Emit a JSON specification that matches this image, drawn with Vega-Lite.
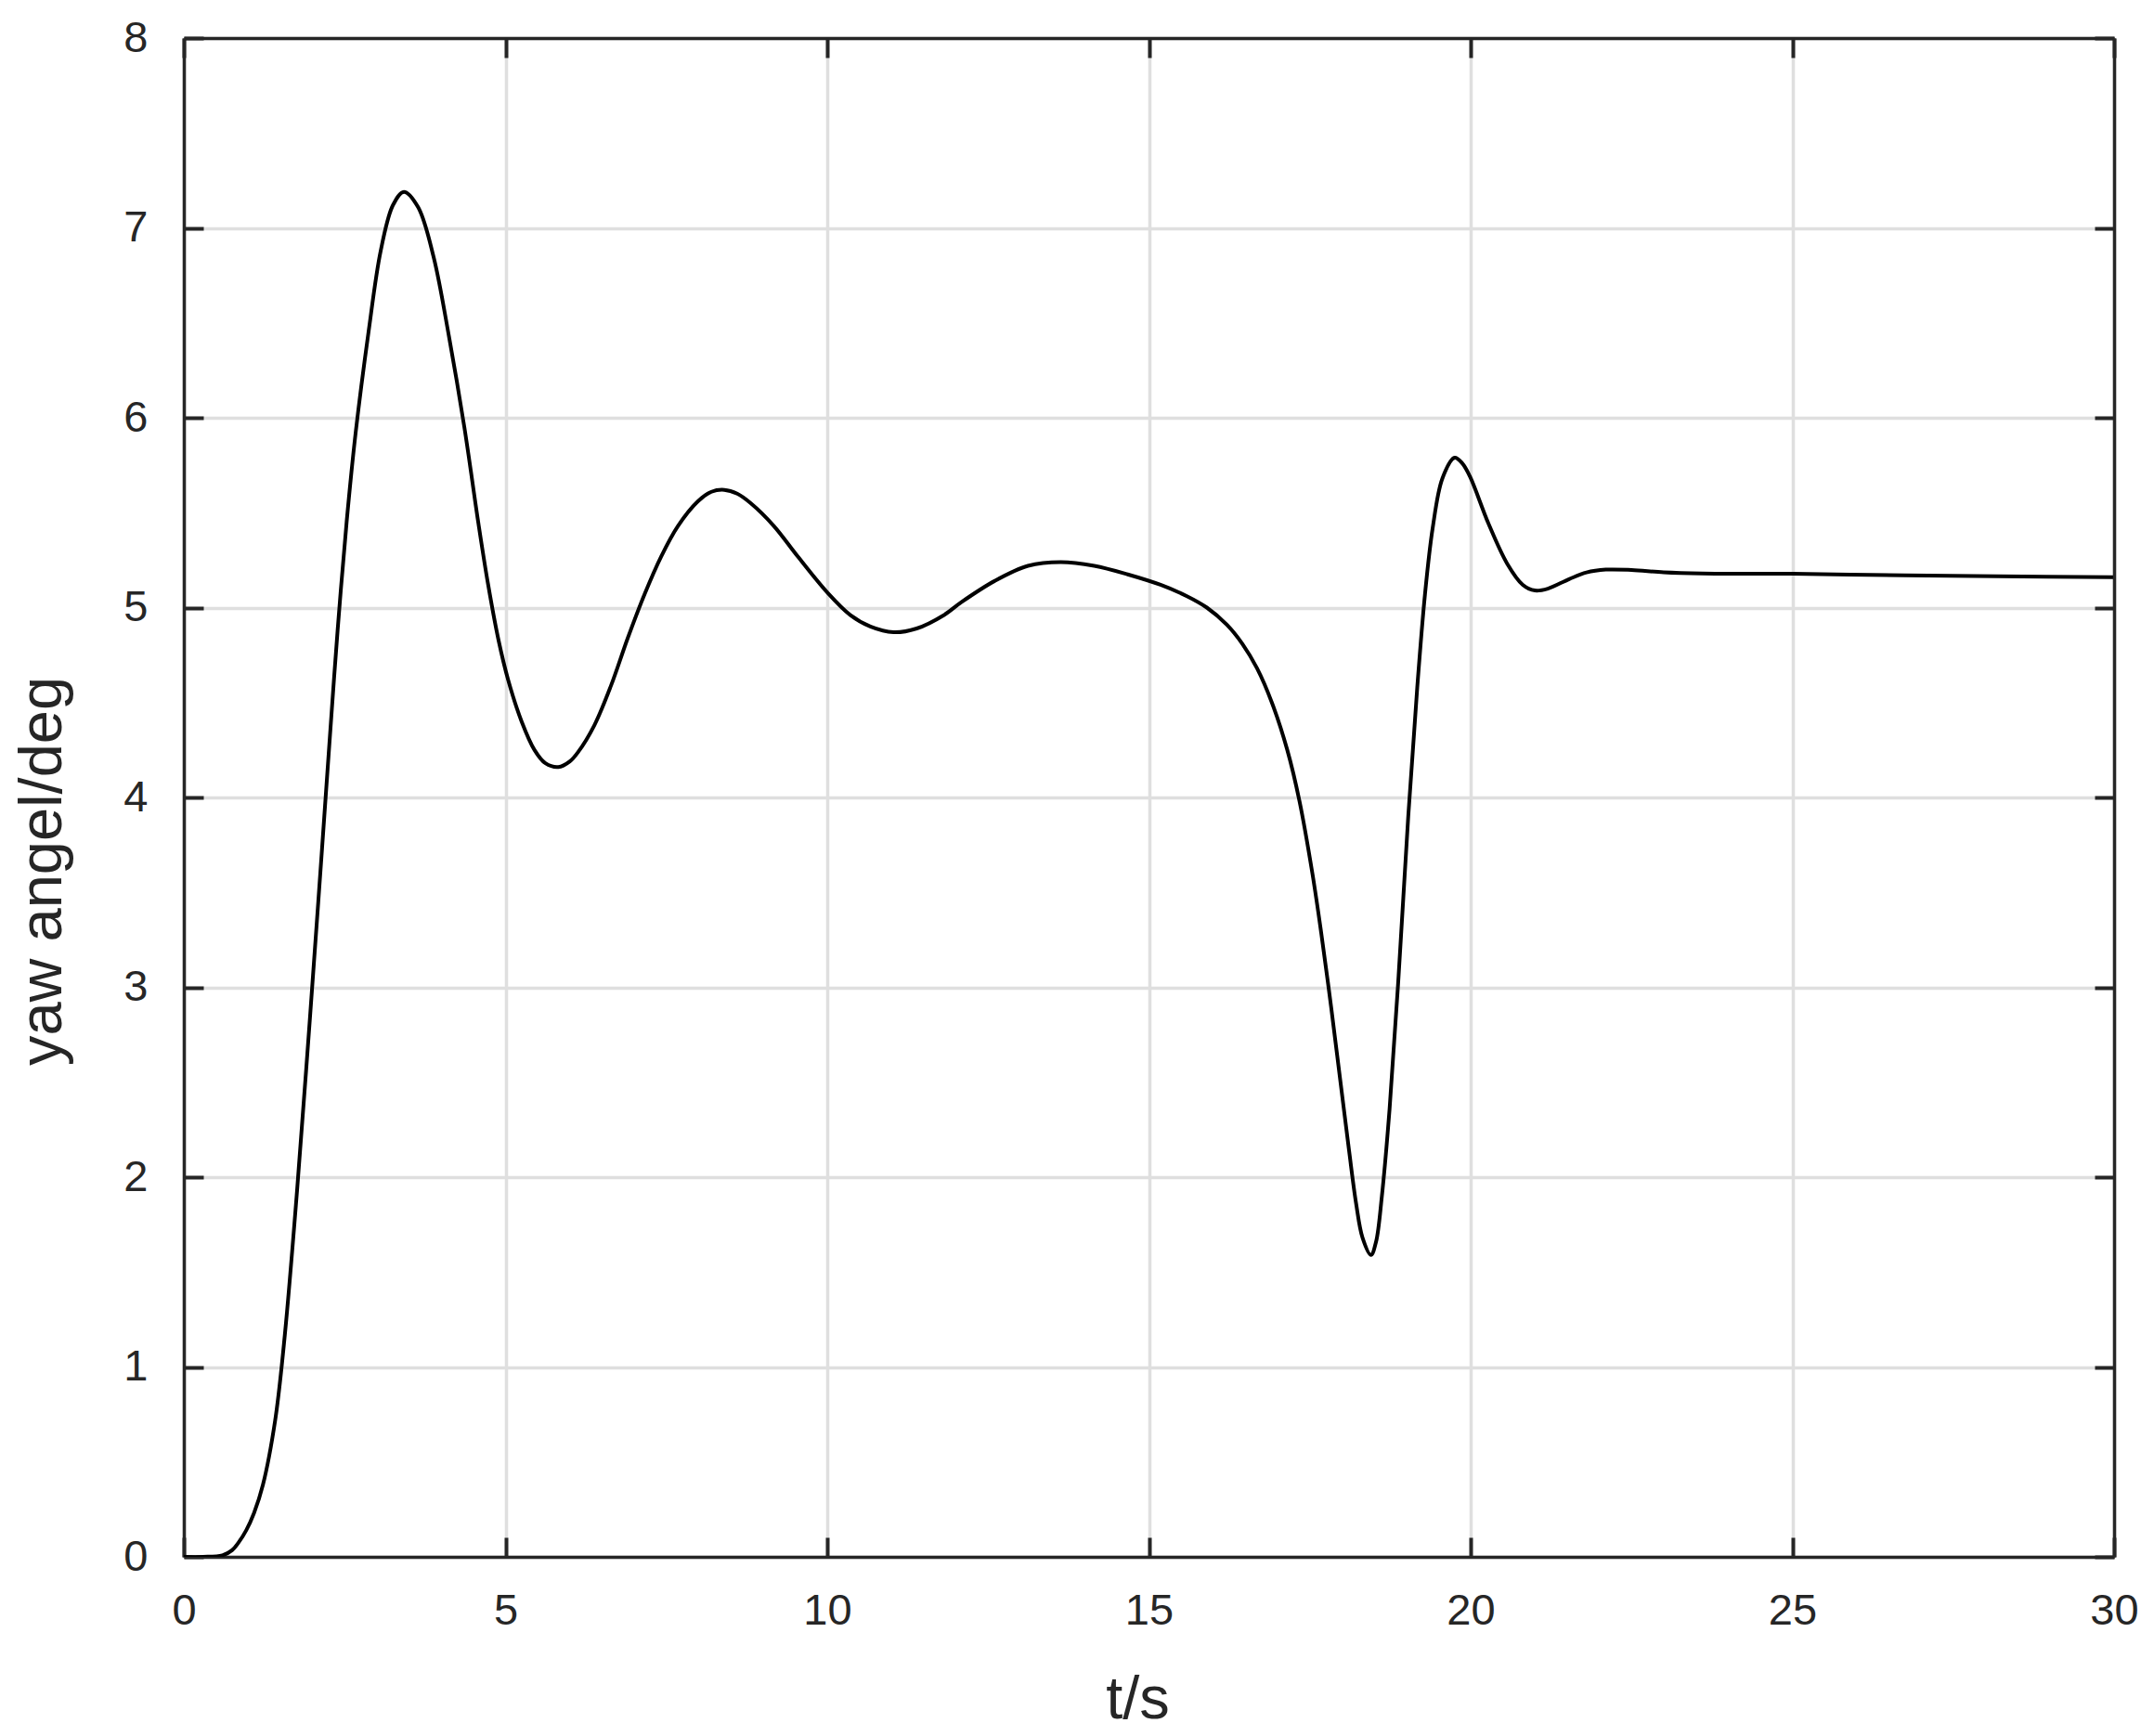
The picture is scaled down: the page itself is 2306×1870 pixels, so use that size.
{
  "$schema": "https://vega.github.io/schema/vega-lite/v6.json",
  "width": 2079,
  "height": 1636,
  "autosize": {"type": "none"},
  "padding": {"left": 198, "top": 41, "right": 29, "bottom": 193},
  "background": "white",
  "config": {
    "view": {"stroke": null},
    "font": "Liberation Sans",
    "axis": {
      "labelFont": "Liberation Sans",
      "titleFont": "Liberation Sans",
      "labelColor": "#262626",
      "titleColor": "#262626",
      "labelFontSize": 47,
      "titleFontSize": 65,
      "titleFontWeight": "normal",
      "domainColor": "#262626",
      "domainWidth": 3.5,
      "tickColor": "#262626",
      "tickWidth": 4,
      "tickSize": -21,
      "gridColor": "#dfdfdf",
      "gridWidth": 3.5,
      "gridOpacity": 1
    }
  },
  "data": {
    "values": [
      {"t": 0, "v": 0},
      {"t": 0.3, "v": 0},
      {"t": 0.6, "v": 0.008},
      {"t": 0.75, "v": 0.035},
      {"t": 0.85, "v": 0.075},
      {"t": 0.97, "v": 0.14},
      {"t": 1.09, "v": 0.23},
      {"t": 1.23, "v": 0.38},
      {"t": 1.42, "v": 0.72},
      {"t": 1.57, "v": 1.17},
      {"t": 1.76, "v": 1.93},
      {"t": 1.9, "v": 2.56},
      {"t": 2.02, "v": 3.12},
      {"t": 2.15, "v": 3.74},
      {"t": 2.27, "v": 4.32},
      {"t": 2.39, "v": 4.88},
      {"t": 2.53, "v": 5.45},
      {"t": 2.67, "v": 5.92},
      {"t": 2.87, "v": 6.45},
      {"t": 3.06, "v": 6.88},
      {"t": 3.25, "v": 7.12},
      {"t": 3.42, "v": 7.19},
      {"t": 3.64, "v": 7.11},
      {"t": 3.88, "v": 6.85},
      {"t": 4.12, "v": 6.43},
      {"t": 4.36, "v": 5.95},
      {"t": 4.58, "v": 5.44},
      {"t": 4.73, "v": 5.12},
      {"t": 4.89, "v": 4.83},
      {"t": 5.04, "v": 4.62},
      {"t": 5.25, "v": 4.4},
      {"t": 5.45, "v": 4.25},
      {"t": 5.62, "v": 4.18},
      {"t": 5.82, "v": 4.16},
      {"t": 6.0, "v": 4.19},
      {"t": 6.13, "v": 4.24},
      {"t": 6.38, "v": 4.38},
      {"t": 6.64, "v": 4.59},
      {"t": 6.9, "v": 4.84},
      {"t": 7.16, "v": 5.07},
      {"t": 7.42, "v": 5.27},
      {"t": 7.68, "v": 5.43},
      {"t": 7.99, "v": 5.56},
      {"t": 8.2, "v": 5.61},
      {"t": 8.4, "v": 5.62},
      {"t": 8.6, "v": 5.6},
      {"t": 8.81, "v": 5.55},
      {"t": 9.17, "v": 5.43},
      {"t": 9.54, "v": 5.27},
      {"t": 10.0, "v": 5.08},
      {"t": 10.36, "v": 4.96},
      {"t": 10.67, "v": 4.9},
      {"t": 11.03, "v": 4.87},
      {"t": 11.39, "v": 4.89},
      {"t": 11.81, "v": 4.96},
      {"t": 12.09, "v": 5.03},
      {"t": 12.6, "v": 5.14},
      {"t": 13.12, "v": 5.22},
      {"t": 13.63, "v": 5.24},
      {"t": 14.15, "v": 5.22},
      {"t": 14.67, "v": 5.175},
      {"t": 15.18, "v": 5.12},
      {"t": 15.59, "v": 5.06},
      {"t": 15.9, "v": 5.0},
      {"t": 16.21, "v": 4.91},
      {"t": 16.45, "v": 4.81},
      {"t": 16.68, "v": 4.68},
      {"t": 16.91, "v": 4.5},
      {"t": 17.15, "v": 4.25},
      {"t": 17.34, "v": 3.98},
      {"t": 17.54, "v": 3.6},
      {"t": 17.68, "v": 3.28},
      {"t": 17.83, "v": 2.9},
      {"t": 17.97, "v": 2.52},
      {"t": 18.11, "v": 2.14},
      {"t": 18.22, "v": 1.86},
      {"t": 18.32, "v": 1.68},
      {"t": 18.45, "v": 1.59},
      {"t": 18.53, "v": 1.66},
      {"t": 18.62, "v": 1.9},
      {"t": 18.74, "v": 2.36},
      {"t": 18.88, "v": 3.06},
      {"t": 19.03, "v": 3.9},
      {"t": 19.17, "v": 4.58},
      {"t": 19.29, "v": 5.07},
      {"t": 19.41, "v": 5.42},
      {"t": 19.56, "v": 5.68},
      {"t": 19.75, "v": 5.79},
      {"t": 19.87, "v": 5.76},
      {"t": 19.99, "v": 5.69},
      {"t": 20.28, "v": 5.44},
      {"t": 20.57, "v": 5.23},
      {"t": 20.81, "v": 5.12},
      {"t": 21.0, "v": 5.09},
      {"t": 21.2, "v": 5.1},
      {"t": 21.53, "v": 5.15},
      {"t": 21.8, "v": 5.185},
      {"t": 22.1, "v": 5.2},
      {"t": 22.5, "v": 5.198},
      {"t": 23.0, "v": 5.186},
      {"t": 23.6, "v": 5.18},
      {"t": 25.0, "v": 5.178},
      {"t": 26.75, "v": 5.17},
      {"t": 28.2, "v": 5.165},
      {"t": 30, "v": 5.16}
    ]
  },
  "layer": [
    {
      "mark": {"type": "line", "color": "black", "strokeWidth": 4, "interpolate": "catmull-rom", "clip": true},
      "encoding": {
        "x": {
          "field": "t", "type": "quantitative",
          "scale": {"domain": [0, 30], "nice": false},
          "axis": {
            "orient": "bottom", "values": [0, 5, 10, 15, 20, 25, 30], "title": "t/s",
            "labelPadding": 56, "labelFlush": false,
            "titleX": 1027, "titleY": 173, "titleBaseline": "alphabetic", "titleAlign": "center",
            "grid": true, "zindex": 0
          }
        },
        "y": {
          "field": "v", "type": "quantitative",
          "scale": {"domain": [0, 8], "nice": false},
          "axis": {
            "orient": "left", "values": [0, 1, 2, 3, 4, 5, 6, 7, 8], "title": "yaw angel/deg",
            "labelPadding": 60, "labelFlush": false,
            "titleX": -133, "titleY": 897, "titleBaseline": "alphabetic", "titleAlign": "center", "titleAngle": -90,
            "grid": true, "zindex": 0
          }
        }
      }
    },
    {
      "mark": {"type": "line", "strokeOpacity": 0},
      "encoding": {
        "x": {
          "field": "t", "type": "quantitative",
          "scale": {"domain": [0, 30], "nice": false},
          "axis": {"orient": "top", "values": [0, 5, 10, 15, 20, 25, 30], "labels": false, "title": null, "grid": false, "zindex": 1}
        },
        "y": {
          "field": "v", "type": "quantitative",
          "scale": {"domain": [0, 8], "nice": false},
          "axis": {"orient": "right", "values": [0, 1, 2, 3, 4, 5, 6, 7, 8], "labels": false, "title": null, "grid": false, "zindex": 1}
        }
      }
    }
  ],
  "resolve": {"axis": {"x": "independent", "y": "independent"}}
}
